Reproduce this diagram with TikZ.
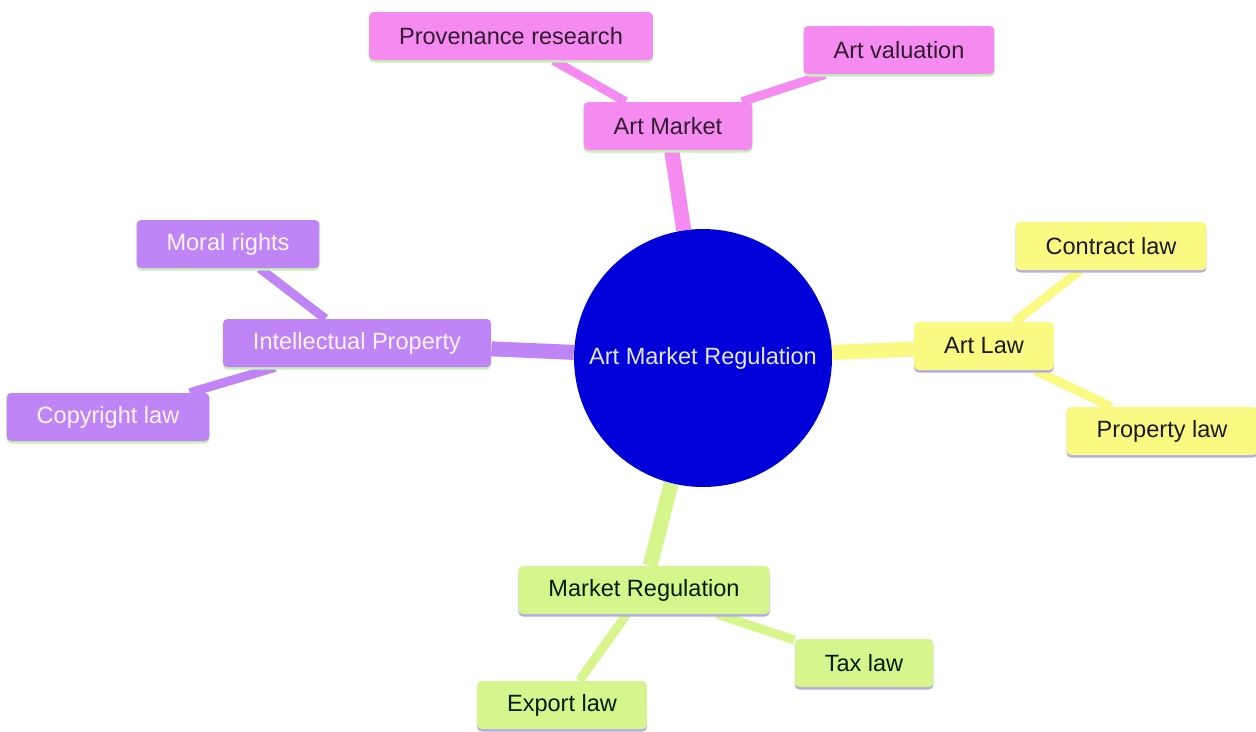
\documentclass[tikz,border=0pt]{standalone}
\usepackage{fontspec}
\setmainfont{Liberation Sans}
\usetikzlibrary{shadows,backgrounds}
\definecolor{rosa}{HTML}{F58AF0}
\definecolor{lila}{HTML}{BF84F5}
\definecolor{gelb}{HTML}{FAFA82}
\definecolor{gruen}{HTML}{D6F58C}
\definecolor{blau}{HTML}{0000D8}
\definecolor{grauGruen}{HTML}{C8EFB8}
\definecolor{grauLila}{HTML}{B4AEE0}
\tikzset{
  Box/.style={rounded corners=2.5pt, minimum height=0.96cm, inner xsep=0.6cm, inner ysep=0pt,
    font=\fontsize{13.4}{16}\selectfont,
    general shadow={fill=#1, shadow yshift=-0.05cm}}, % Schatten unten
  Rosa/.style={Box=grauGruen, fill=rosa, text=black!80!rosa},
  Lila/.style={Box=grauGruen, fill=lila, text=white!92!rosa},
  Gelb/.style={Box=grauLila, fill=gelb, text=black!90},
  Gruen/.style={Box=grauLila, fill=gruen, text=black!80!green!60!black},
  Stamm/.style={line width=0.3cm, #1},  % dicke Kanten
  Zweig/.style={line width=0.18cm, #1}  % duenne Kanten
}
\begin{document}
\begin{tikzpicture}[x=0.02cm, y=-0.02cm]
\useasboundingbox (0,0) rectangle (1256,731);

% Mitte
\node[circle, fill=blau, minimum size=5.16cm, text=white!90!blue,
  font=\fontsize{13.4}{16}\selectfont] (mitte) at (703,358) {Art Market Regulation};

% Art Market
\node[Rosa] (markt) at (668,126) {Art Market};
\node[Rosa] (prov) at (511,36) {Provenance research};
\node[Rosa] (wert) at (899,50) {Art valuation};

% Intellectual Property
\node[Lila] (ip) at (357,343) {Intellectual Property};
\node[Lila] (moral) at (228,244) {Moral rights};
\node[Lila] (copy) at (108,417) {Copyright law};

% Art Law
\node[Gelb] (recht) at (984,346) {Art Law};
\node[Gelb] (vertrag) at (1111,246) {Contract law};
\node[Gelb] (eigentum) at (1162,431) {Property law};

% Market Regulation
\node[Gruen] (reg) at (644,590) {Market Regulation};
\node[Gruen] (steuer) at (864,663) {Tax law};
\node[Gruen] (export) at (562,705) {Export law};

% Kanten
\begin{scope}[on background layer]
\draw[Stamm=rosa] (mitte) -- (markt);
\draw[Stamm=lila] (mitte) -- (ip);
\draw[Stamm=gelb] (mitte) -- (recht);
\draw[Stamm=gruen] (mitte) -- (reg);
\draw[Zweig=rosa] (markt) -- (prov);
\draw[Zweig=rosa] (markt) -- (wert);
\draw[Zweig=lila] (ip) -- (moral);
\draw[Zweig=lila] (ip) -- (copy);
\draw[Zweig=gelb] (recht) -- (vertrag);
\draw[Zweig=gelb] (recht) -- (eigentum);
\draw[Zweig=gruen] (reg) -- (steuer);
\draw[Zweig=gruen] (reg) -- (export);
\end{scope}
\end{tikzpicture}
\end{document}
